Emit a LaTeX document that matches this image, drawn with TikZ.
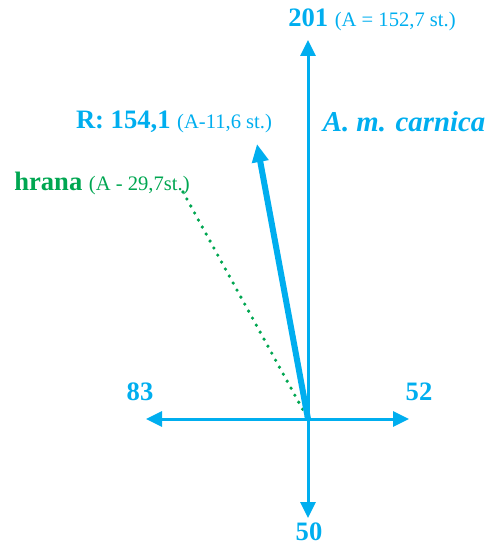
\documentclass[tikz,border=0pt]{standalone}
\usepackage{fontspec}
\setmainfont{Liberation Serif}
\usetikzlibrary{arrows.meta}
\definecolor{beeblue}{RGB}{0,174,239}
\definecolor{beegreen}{RGB}{0,166,81}
\tikzset{
  axis/.style={beeblue,line width=1.5pt,-{Triangle[length=8pt,width=7.5pt]}},
  resultant/.style={beeblue,line width=3pt,-{Triangle[length=9pt,width=8pt]}},
  edge/.style={beegreen,line width=1.8pt,line cap=round,dash pattern=on 0pt off 4pt},
  big/.style={font=\fontsize{13.3}{15}\selectfont\bfseries},
  lbl/.style={inner sep=0pt}
}
\newcommand{\paren}[1]{{\mdseries\fontsize{10.3}{12}\selectfont #1}}
\begin{document}
\begin{tikzpicture}[x=0.5pt,y=-0.5pt]
\useasboundingbox (0,0) rectangle (486,545);
% axes
\coordinate (o) at (308,419);
\coordinate (top) at (308,40);
\coordinate (bottom) at (308,518);
\coordinate (left) at (146,419);
\coordinate (right) at (409,419);
\coordinate (rtip) at (257,144);
\coordinate (hstart) at (183,192);
\draw[axis] (o) -- (top);
\draw[axis] (o) -- (bottom);
\draw[axis] (o) -- (left);
\draw[axis] (o) -- (right);
\draw[edge] (hstart) -- (o);
\draw[resultant] (o) -- (rtip);
% labels
\node[lbl,big,beeblue] (t201) at (372,20) {201 \paren{(A = 152,7 st.)}};
\node[lbl,big,beeblue] (tR) at (174,122) {R: 154,1 \paren{(A-11,6 st.)}};
\node[lbl,big,beeblue,font=\fontsize{14.4}{16}\selectfont\bfseries] (tcarnica) at (404,122) {\itshape A. m. carnica};
\node[lbl,big,beegreen] (thrana) at (102,183) {hrana \paren{(A - 29,7st.)}};
\node[lbl,big,beeblue] (t83) at (140,392) {83};
\node[lbl,big,beeblue] (t52) at (419,392) {52};
\node[lbl,big,beeblue] (t50) at (309,532) {50};
\end{tikzpicture}
\end{document}
